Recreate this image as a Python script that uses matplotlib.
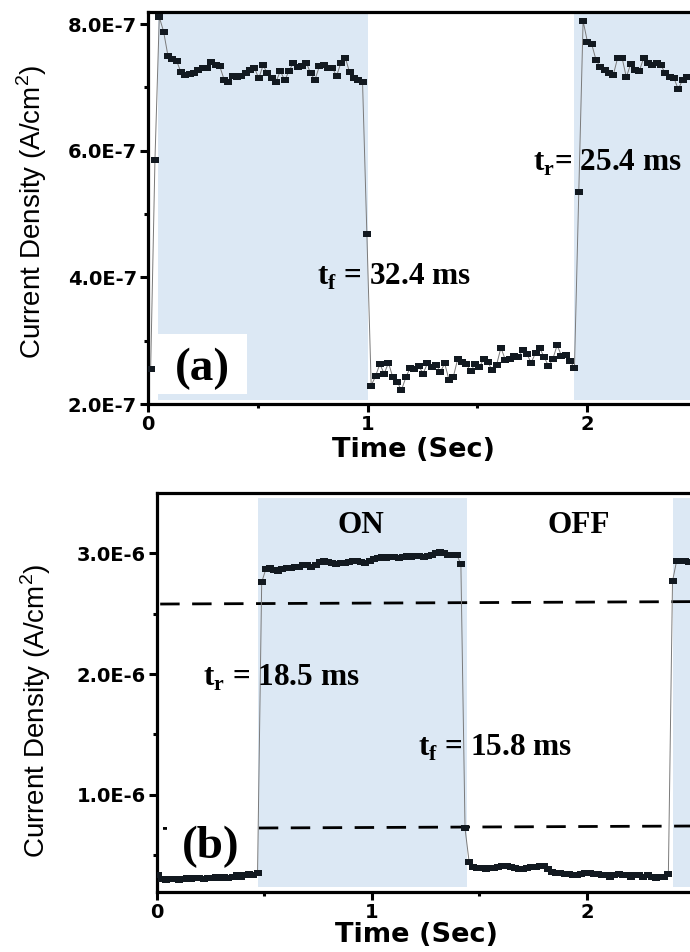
import numpy as np
import matplotlib
matplotlib.use("Agg")
import matplotlib.pyplot as plt
from matplotlib.patches import Rectangle
from matplotlib.ticker import FixedLocator

plt.rcParams['mathtext.fontset'] = 'custom'
plt.rcParams['mathtext.rm'] = 'Liberation Sans'
plt.rcParams['mathtext.bf'] = 'Liberation Serif:bold'

# ---- panel (a): photocurrent, sampled every 19.7 ms from t = 12 ms ----
t0_a, dt_a = 0.012, 0.0197
# current density in units of 1E-7 A/cm2
j_a = [
    2.55, 5.86, 8.11, 7.88, 7.50, 7.45, 7.42, 7.24, 7.20, 7.21,
    7.22, 7.27, 7.30, 7.31, 7.40, 7.36, 7.33, 7.12, 7.09, 7.18,
    7.17, 7.18, 7.22, 7.28, 7.31, 7.14, 7.35, 7.22, 7.14, 7.09,
    7.26, 7.11, 7.26, 7.39, 7.32, 7.34, 7.39, 7.22, 7.12, 7.33,
    7.35, 7.31, 7.31, 7.18, 7.39, 7.47, 7.24, 7.15, 7.11, 7.08,
    4.69, 2.29, 2.44, 2.63, 2.48, 2.65, 2.42, 2.35, 2.22, 2.42,
    2.57, 2.55, 2.60, 2.48, 2.64, 2.58, 2.62, 2.51, 2.64, 2.38,
    2.43, 2.71, 2.66, 2.63, 2.52, 2.63, 2.58, 2.71, 2.66, 2.53,
    2.62, 2.89, 2.70, 2.71, 2.76, 2.74, 2.85, 2.79, 2.65, 2.81,
    2.88, 2.74, 2.60, 2.71, 2.93, 2.76, 2.78, 2.68, 2.57, 5.34,
    8.05, 7.72, 7.68, 7.43, 7.32, 7.28, 7.23, 7.20, 7.47, 7.47,
    7.16, 7.37, 7.28, 7.26, 7.46, 7.38, 7.36, 7.38, 7.35, 7.22,
    7.17, 7.15, 6.97, 7.12, 7.17,
]
on_a = [(0.045, 1.0), (1.94, 2.6)]
yticks_a = [2e-7, 4e-7, 6e-7, 8e-7]
yticklabels_a = ['2.0E-7', '4.0E-7', '6.0E-7', '8.0E-7']

# ---- panel (b): photocurrent, sampled every 19.3 ms from t = 4.5 ms ----
t0_b, dt_b = 0.0045, 0.0193
# current density in units of 1E-6 A/cm2
j_b = [
    0.33, 0.30, 0.29, 0.30, 0.30, 0.29, 0.30, 0.31, 0.30, 0.31,
    0.31, 0.30, 0.31, 0.31, 0.32, 0.31, 0.32, 0.31, 0.32, 0.33,
    0.32, 0.33, 0.34, 0.33, 0.35, 2.76, 2.87, 2.88, 2.86, 2.85,
    2.87, 2.88, 2.88, 2.89, 2.89, 2.90, 2.90, 2.89, 2.90, 2.93,
    2.94, 2.93, 2.92, 2.91, 2.92, 2.92, 2.93, 2.94, 2.94, 2.93,
    2.92, 2.94, 2.95, 2.96, 2.97, 2.96, 2.97, 2.97, 2.96, 2.97,
    2.98, 2.97, 2.98, 2.98, 2.97, 2.98, 2.99, 3.00, 3.01, 3.00,
    2.99, 2.99, 2.99, 2.91, 0.72, 0.44, 0.40, 0.39, 0.39, 0.38,
    0.39, 0.39, 0.40, 0.41, 0.41, 0.40, 0.39, 0.38, 0.38, 0.39,
    0.40, 0.40, 0.41, 0.41, 0.38, 0.36, 0.35, 0.35, 0.34, 0.34,
    0.33, 0.33, 0.34, 0.35, 0.35, 0.34, 0.34, 0.33, 0.33, 0.32,
    0.33, 0.34, 0.33, 0.33, 0.32, 0.33, 0.33, 0.32, 0.33, 0.32,
    0.31, 0.32, 0.32, 0.34, 2.77, 2.94, 2.94, 2.94, 2.93,
]
on_b = [(0.47, 1.44), (2.40, 2.6)]
# 90 % and 10 % levels used for rise / fall times
level_hi_x = [0.015, 2.48]
level_hi_y = [2.58e-6, 2.60e-6]
level_lo_x = [0.028, 2.48]
level_lo_y = [0.72e-6, 0.74e-6]
yticks_b = [1e-6, 2e-6, 3e-6]
yticklabels_b = ['1.0E-6', '2.0E-6', '3.0E-6']

t_a = t0_a + dt_a * np.arange(len(j_a))
t_b = t0_b + dt_b * np.arange(len(j_b))

shade = '#dce8f4'
ink = '#121920'
serif = 'Liberation Serif'
note_size = 22.5
tick_font = dict(family='DejaVu Sans', weight='bold', size=14)
box_marker = [(-1.35, -1), (1.35, -1), (1.35, 1), (-1.35, 1)]

fig = plt.figure(figsize=(6.9, 9.52), dpi=100)
ax1 = fig.add_axes([0.2145, 0.5756, 0.7855, 0.4118])
ax2 = fig.add_axes([0.2275, 0.0630, 0.7725, 0.4191])


def style_axes(ax, xmax, ylim, yticks, yticklabels, yminor):
    ax.set_xlim(0, xmax)
    ax.set_ylim(*ylim)
    for side in ['left', 'bottom', 'top']:
        ax.spines[side].set_linewidth(2.3)
        ax.spines[side].set_color('black')
    ax.spines['right'].set_visible(False)
    ax.set_xticks([0, 1, 2])
    ax.set_xticklabels(['0', '1', '2'])
    ax.xaxis.set_minor_locator(FixedLocator([0.5, 1.5]))
    ax.set_yticks(yticks)
    ax.set_yticklabels(yticklabels)
    ax.yaxis.set_minor_locator(FixedLocator(yminor))
    ax.tick_params(which='major', direction='out', length=5.5, width=2.2, pad=2.5)
    ax.tick_params(which='minor', direction='out', length=3, width=2.2)
    ax.tick_params(top=False, right=False)
    for lab in ax.get_xticklabels() + ax.get_yticklabels():
        lab.set_fontproperties(tick_font)
    ax.set_xlabel('Time (Sec)', family='DejaVu Sans', weight='bold', size=19.5)
    ax.xaxis.label.set_va('center')
    ax.set_ylabel('Current Density (A/cm$^2$)', family='Liberation Sans', size=20)
    ax.yaxis.label.set_va('center')


def note(ax, x, y, s, **kw):
    ax.text(x, y, s, family=serif, weight='bold', size=note_size,
            va='center', zorder=4, **kw)


# panel (a)
for a, b in on_a:
    ax1.axvspan(a, b, ymin=0.01, ymax=1, color=shade, lw=0, zorder=0)
ax1.add_patch(Rectangle((0.046, 2.16e-7), 0.405, 0.95e-7, color='white', lw=0, zorder=1))
ax1.plot(t_a, np.array(j_a) * 1e-7, '-', color='#7a7a7a', lw=0.7,
         marker=box_marker, ms=5.4, mfc=ink, mec=ink, mew=0, zorder=3)
style_axes(ax1, 2.469, (2e-7, 8.19e-7), yticks_a, yticklabels_a, [3e-7, 5e-7, 7e-7])
ax1.xaxis.set_label_coords(0.489, -0.117)
ax1.yaxis.set_label_coords(-0.214, 0.49)
note(ax1, 0.77, 4.0e-7, r'$\mathbf{t}_{\mathbf{f}}$ = 32.4 ms', ha='left')
note(ax1, 1.754, 5.8e-7, r'$\mathbf{t}_{\mathbf{r}}$= 25.4 ms', ha='left')
ax1.text(0.246, 2.55e-7, '(a)', family=serif, weight='bold', size=34,
         ha='center', va='center', zorder=4)

# panel (b)
for a, b in on_b:
    ax2.axvspan(a, b, ymin=0.012, ymax=0.988, color=shade, lw=0, zorder=0)
ax2.plot(level_hi_x, level_hi_y, color='black', lw=2, ls=(0, (7, 4.5)), zorder=2)
ax2.plot(level_lo_x, level_lo_y, color='black', lw=2, ls=(0, (7, 4.5)), zorder=2)
ax2.add_patch(Rectangle((0.047, 0.40e-6), 0.418, 0.45e-6, color='white', lw=0, zorder=2.5))
ax2.plot(t_b, np.array(j_b) * 1e-6, '-', color='#7a7a7a', lw=0.7,
         marker=box_marker, ms=5.4, mfc=ink, mec=ink, mew=0, zorder=3)
style_axes(ax2, 2.479, (0.193e-6, 3.5e-6), yticks_b, yticklabels_b, [0.5e-6, 1.5e-6, 2.5e-6])
ax2.xaxis.set_label_coords(0.486, -0.108)
ax2.yaxis.set_label_coords(-0.227, 0.454)
note(ax2, 0.949, 3.23e-6, 'ON', ha='center')
note(ax2, 1.963, 3.23e-6, 'OFF', ha='center')
note(ax2, 0.214, 1.97e-6, r'$\mathbf{t}_{\mathbf{r}}$ = 18.5 ms', ha='left')
note(ax2, 1.214, 1.39e-6, r'$\mathbf{t}_{\mathbf{f}}$ = 15.8 ms', ha='left')
ax2.text(0.251, 0.566e-6, '(b)', family=serif, weight='bold', size=34,
         ha='center', va='center', zorder=4)

fig.savefig('out.png', dpi=100)
